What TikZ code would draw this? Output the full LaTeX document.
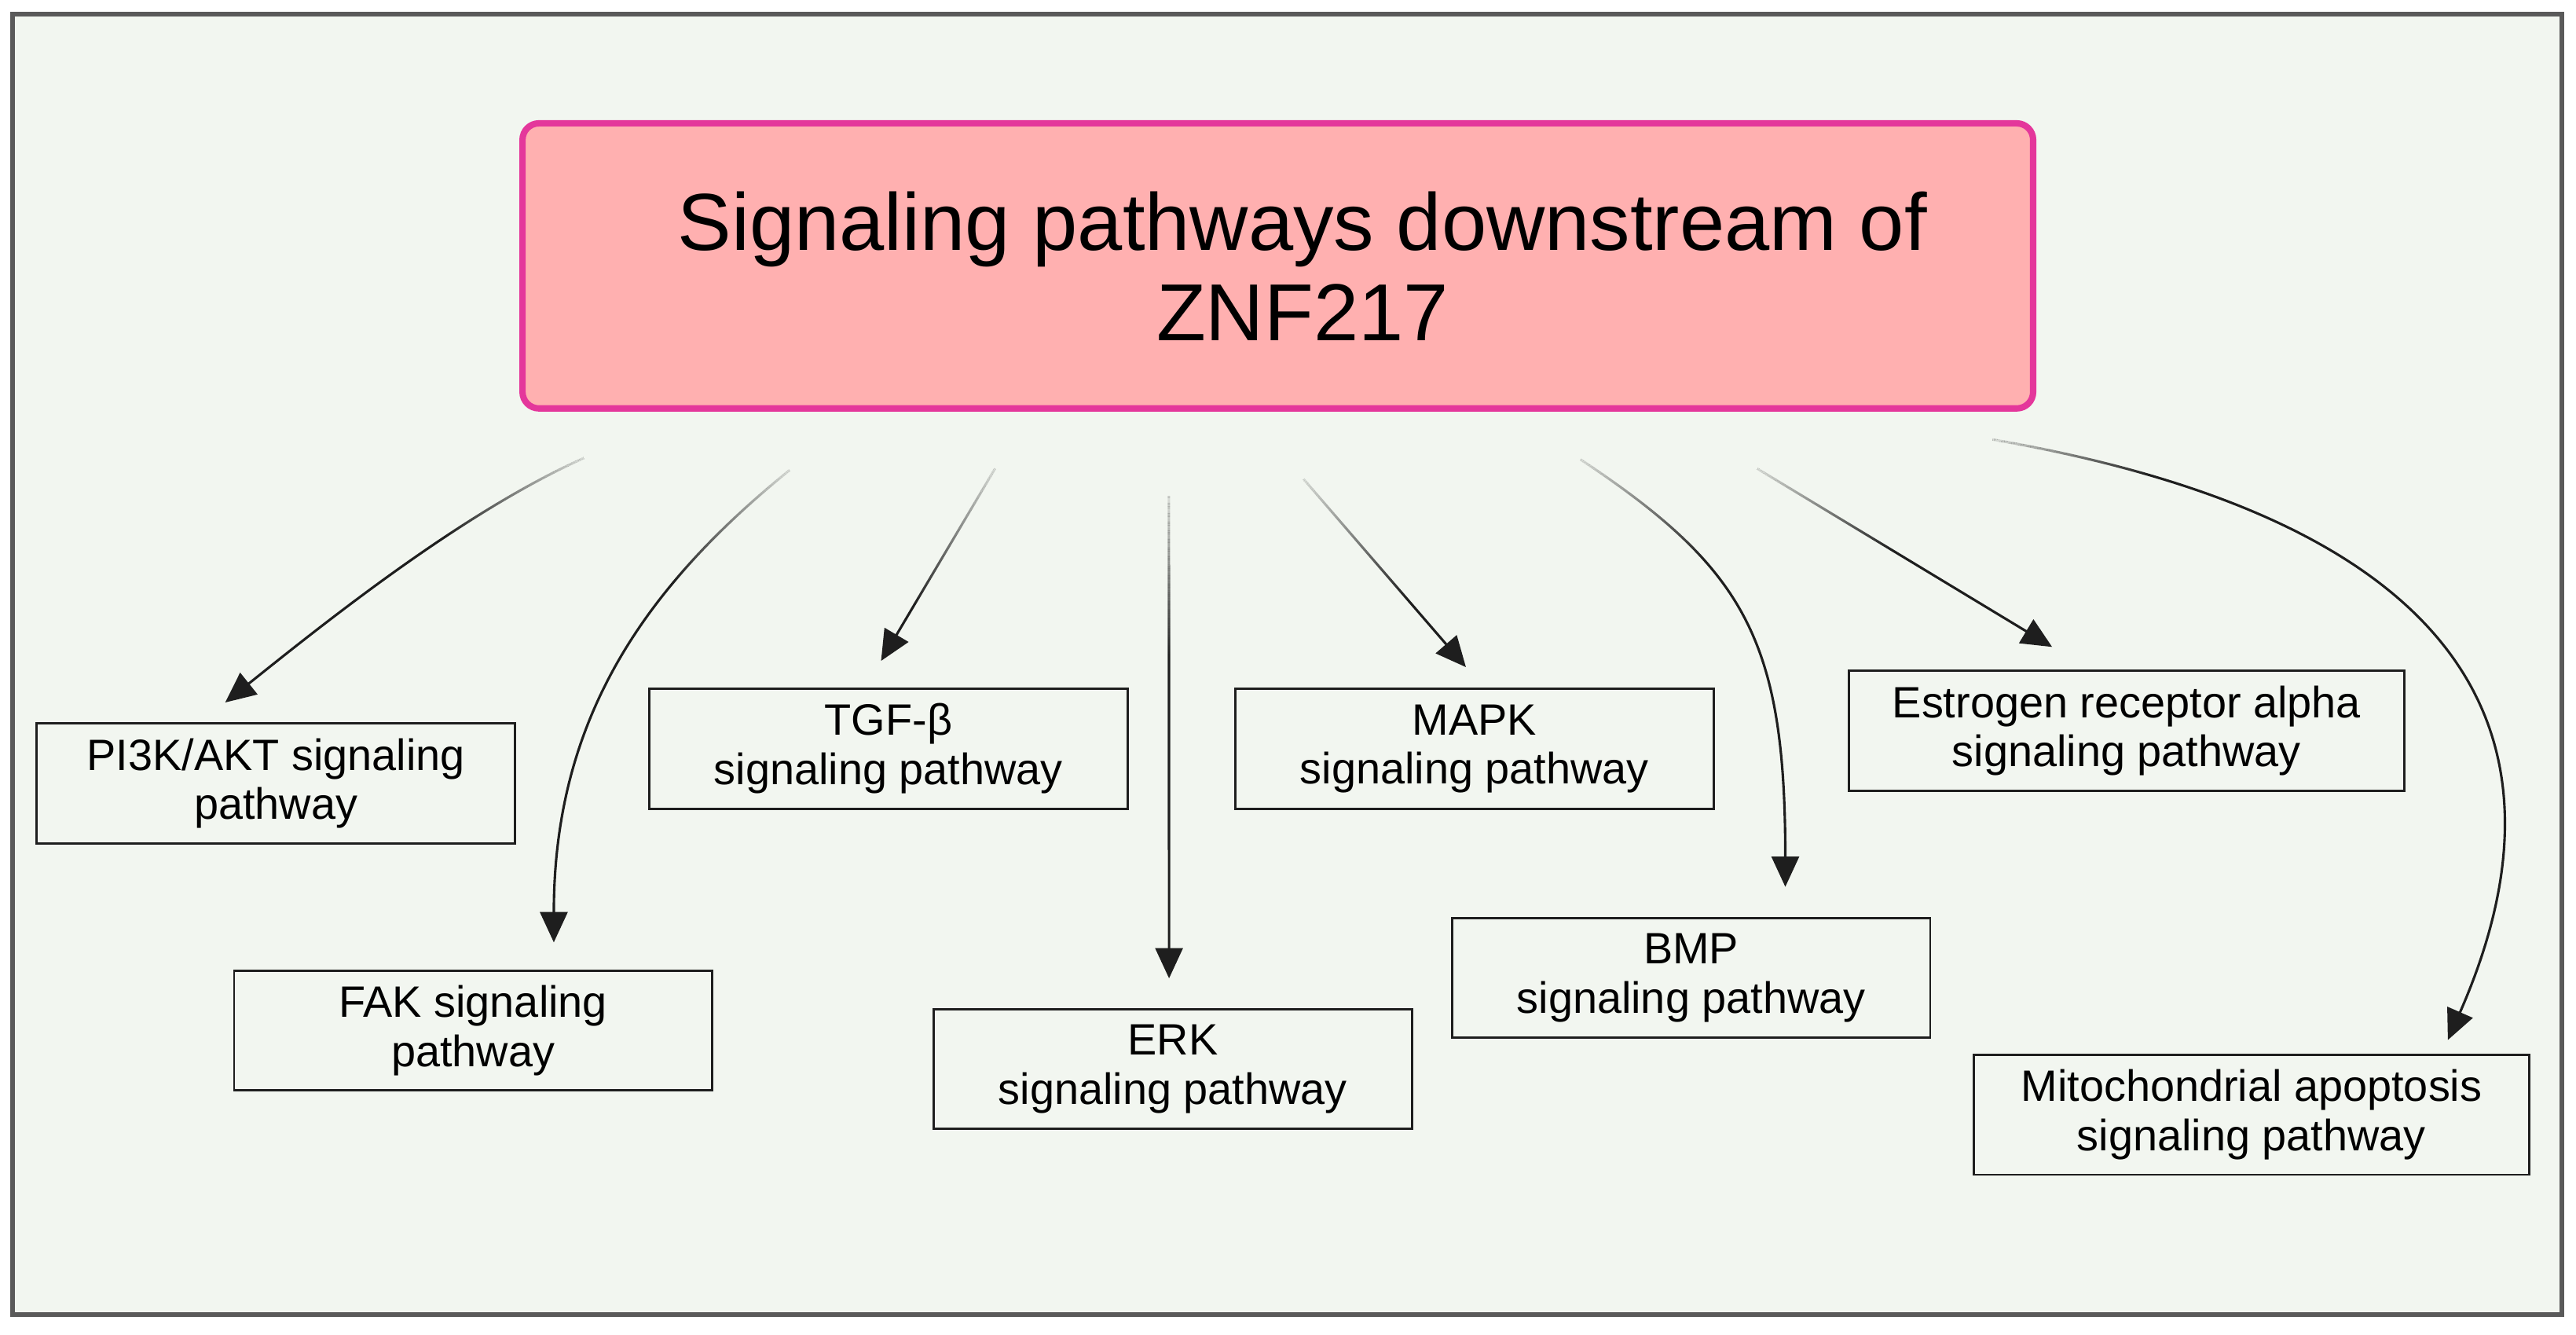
\documentclass[tikz,border=0pt]{standalone}
\usepackage{fontspec}
\setmainfont{Liberation Sans}
\usetikzlibrary{arrows.meta,decorations.markings}

\definecolor{panelbg}{RGB}{242,246,240}
\definecolor{panelframe}{RGB}{90,90,90}
\definecolor{titlefill}{RGB}{255,176,176}
\definecolor{titleline}{RGB}{228,55,155}
\definecolor{ink}{RGB}{30,30,30}

\tikzset{
  titlebox/.style={rectangle, rounded corners=2mm, draw=titleline, line width=2.2pt, fill=titlefill,
    minimum width=183.9mm, minimum height=34.7mm, align=center, font=\fontsize{28}{31.3}\selectfont},
  pathbox/.style={rectangle, draw=ink, line width=0.8pt, minimum width=58.2mm, minimum height=14.6mm,
    inner sep=1mm, align=center, font=\fontsize{15.2}{17}\selectfont},
  widebox/.style={pathbox, minimum width=67.6mm},
  fadein/.style={postaction={decorate, decoration={markings,
    mark=between positions 0 and 55pt step 0.5pt with {%
      \pgfmathsetmacro\fadeop{max(0,0.88*(1-(\pgfkeysvalueof{/pgf/decoration/mark info/sequence number}-1)/110))}%
      \draw[-, panelbg, line width=1.8pt, draw opacity=\fadeop] (0pt,0pt) -- (0.5pt,0pt);}}}},
  link/.style={draw=ink, line width=0.85pt, -{Triangle[length=10.5pt,width=9.5pt]}, fadein}
}

\begin{document}
\begin{tikzpicture}[x=0.2mm, y=-0.2mm]
  \useasboundingbox (0,0) rectangle (1568,812);
  \draw[panelframe, line width=1.6pt, fill=panelbg] (7.8,8.5) rectangle (1559.4,800);

  \node[titlebox] (title) at (777.8,161.8) {\hspace*{6mm}Signaling pathways downstream of\\\hspace*{6mm}ZNF217};

  \node[pathbox] (pik) at (167.9,476.7) {PI3K/AKT signaling\\pathway};
  \node[pathbox] (fak) at (288,627.2) {FAK signaling\\pathway};
  \node[pathbox] (tgf) at (540.8,455.6) {TGF-β\\signaling pathway};
  \node[pathbox] (erk) at (713.9,650.6) {ERK\\signaling pathway};
  \node[pathbox] (mapk) at (897.5,455.7) {MAPK\\signaling pathway};
  \node[pathbox] (bmp) at (1029.4,595.1) {BMP\\signaling pathway};
  \node[widebox] (era) at (1294.4,444.8) {Estrogen receptor alpha\\signaling pathway};
  \node[widebox] (mito) at (1370.5,678.4) {Mitochondrial apoptosis\\signaling pathway};

  \coordinate (pikfrom) at (355.3,278.8);
  \coordinate (fakfrom) at (480.5,286.2);
  \coordinate (tgffrom) at (605.6,285.3);
  \coordinate (erkfrom) at (711.5,302);
  \coordinate (mapkfrom) at (793.6,291.7);
  \coordinate (bmpfrom) at (962.2,279.7);
  \coordinate (erafrom) at (1069.8,285.3);
  \coordinate (mitofrom) at (1213,267.5);

  \draw[link] (pikfrom) .. controls +(-73,32.6) and +(62.4,-50) .. ([shift={(-30.8,-12)}]pik.north);
  \draw[link] (fakfrom) .. controls +(-89.4,72.3) and +(0,-135) .. ([shift={(49.1,-16.5)}]fak.north);
  \draw[link] (tgffrom) -- ([shift={(-4.5,-16.2)}]tgf.north);
  \draw[link] (erkfrom) -- ([shift={(-2.3,-18)}]erk.north);
  \draw[link] (mapkfrom) -- ([shift={(-5.2,-12.5)}]mapk.north);
  \draw[link] (bmpfrom) .. controls +(100,66.4) and +(0,-150) .. ([shift={(57.3,-18.2)}]bmp.north);
  \draw[link] (erafrom) -- ([shift={(-45.3,-13.9)}]era.north);
  \draw[link] (mitofrom) .. controls +(260,45) and +(90,-205) .. ([shift={(119.5,-8.3)}]mito.north);
\end{tikzpicture}
\end{document}
